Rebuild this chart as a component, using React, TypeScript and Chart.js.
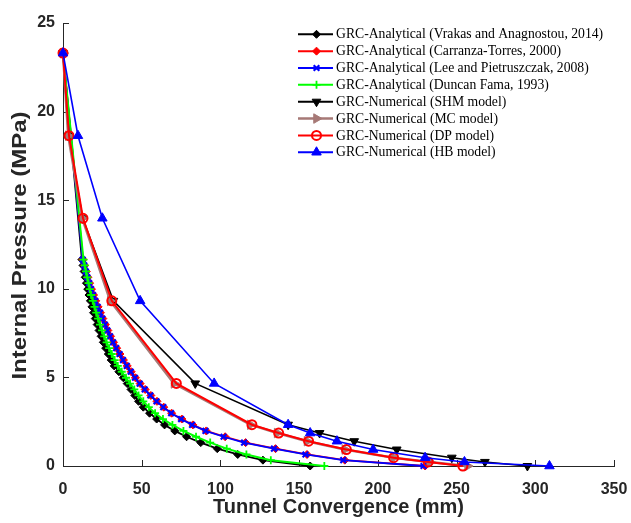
import React, { useEffect, useRef } from 'react';
import { Chart, registerables } from 'chart.js';
import { drawPoint } from 'chart.js/helpers';

Chart.register(...registerables);

const seriesLabels = [
  'GRC-Analytical (Vrakas and Anagnostou, 2014)',
  'GRC-Analytical (Carranza-Torres, 2000)',
  'GRC-Analytical (Lee and Pietruszczak, 2008)',
  'GRC-Analytical (Duncan Fama, 1993)',
  'GRC-Numerical (SHM model)',
  'GRC-Numerical (MC model)',
  'GRC-Numerical (DP model)',
  'GRC-Numerical (HB model)',
];

const xTitle = 'Tunnel Convergence (mm)';
const yTitle = 'Internal Pressure (MPa)';
const xTickValues = [0, 50, 100, 150, 200, 250, 300, 350];
const yTickValues = [0, 5, 10, 15, 20, 25];

// Internal pressure (MPa) for analytical curves
const analyticalP = [23.3, 11.65, 11.32, 10.98, 10.65, 10.32, 9.98, 9.65, 9.32, 8.98, 8.65, 8.32, 7.98, 7.65, 7.32, 6.98, 6.65, 6.32, 5.98, 5.65, 5.32, 4.98, 4.65, 4.32, 3.98, 3.65, 3.32, 2.98, 2.65, 2.32, 1.98, 1.65, 1.32, 0.98, 0.65, 0.33, 0];
// Tunnel convergence (mm)
const vrakasU = [0, 12.0, 12.7, 13.4, 14.1, 14.9, 15.7, 16.5, 17.4, 18.4, 19.4, 20.5, 21.7, 22.9, 24.2, 25.6, 27.1, 28.8, 30.6, 32.5, 35.5, 38.3, 40.8, 43.2, 45.6, 48.0, 51, 55, 59.5, 64.5, 71, 78.5, 87.5, 98, 111, 127, 157];
const carranzaU = [0, 12.7, 13.7, 14.8, 15.8, 16.9, 18.1, 19.4, 20.8, 22.3, 23.8, 25.3, 26.9, 28.5, 30.2, 32.1, 34.1, 36.2, 38.4, 40.8, 43.3, 46.0, 49.0, 52.2, 55.8, 59.7, 64.0, 69.0, 75.5, 82.5, 91, 103, 116, 135, 155, 179, 230];
const leeU = [0, 12.5, 13.5, 14.5, 15.5, 16.6, 17.8, 19.1, 20.5, 22.0, 23.5, 25.0, 26.6, 28.2, 29.9, 31.8, 33.8, 35.9, 38.1, 40.5, 43.0, 45.7, 48.7, 51.9, 55.5, 59.4, 63.7, 68.7, 75.0, 82.0, 90.5, 102, 115, 134, 154, 178, 229];
const duncanU = [0, 13.0, 13.8, 14.6, 15.4, 16.2, 17.0, 17.9, 18.9, 20.0, 21.1, 22.3, 23.5, 24.8, 26.2, 27.7, 29.3, 31.0, 32.8, 34.8, 37.3, 40.0, 42.6, 45.3, 48.0, 51.0, 54.5, 58.5, 63.5, 69.5, 76.5, 84.5, 93.5, 104, 116.5, 132, 166];

// Numerical results
const numericalP = [23.3, 18.64, 13.98, 9.32, 4.66, 2.33, 1.86, 1.4, 0.93, 0.47, 0.23, 0];
const shmU = [0, 3.5, 12.5, 32, 84, 143, 163, 185, 212, 247, 268, 295];
const mcU = [0, 3.3, 12.2, 30, 70.5, 119, 136, 155, 179, 210, 233, 257];
const dpU = [0, 3.8, 12.7, 31, 72, 120, 137, 156, 180, 210, 232, 254];
const hbU = [0, 9.5, 25, 49, 96, 143, 157, 174, 197, 230, 255, 309];

const seriesX = [vrakasU, carranzaU, leeU, duncanU, shmU, mcU, dpU, hbU];
const seriesY = [analyticalP, analyticalP, analyticalP, analyticalP, numericalP, numericalP, numericalP, numericalP];

const styles = [
  { color: '#000000', fill: '#000000', pointStyle: 'rectRot', radius: 4, rotation: 0, lineWidth: 1.8, pointBorder: 1 },
  { color: '#ff0000', fill: '#ff0000', pointStyle: 'rectRot', radius: 4, rotation: 0, lineWidth: 1.8, pointBorder: 1 },
  { color: '#0000ff', fill: '#0000ff', pointStyle: 'crossRot', radius: 4, rotation: 0, lineWidth: 1.8, pointBorder: 2.2 },
  { color: '#00ff00', fill: '#00ff00', pointStyle: 'cross', radius: 4, rotation: 0, lineWidth: 2, pointBorder: 1.8 },
  { color: '#000000', fill: '#000000', pointStyle: 'triangle', radius: 5, rotation: 180, lineWidth: 1.6, pointBorder: 1 },
  { color: '#a67976', fill: '#a67976', pointStyle: 'triangle', radius: 5.5, rotation: 90, lineWidth: 2.5, pointBorder: 1 },
  { color: '#ff0000', fill: 'rgba(255,255,255,0)', pointStyle: 'circle', radius: 4.5, rotation: 0, lineWidth: 2, pointBorder: 2 },
  { color: '#0000ff', fill: '#0000ff', pointStyle: 'triangle', radius: 5.5, rotation: 0, lineWidth: 1.6, pointBorder: 1 },
];

const AXIS_COLOR = '#262626';
const SANS = "'Liberation Sans', Arial, sans-serif";

const innerTicks = {
  id: 'innerTicks',
  beforeDatasetsDraw(chart: any) {
    const { ctx, chartArea } = chart;
    const x = chart.scales.x;
    const y = chart.scales.y;
    ctx.save();
    ctx.strokeStyle = AXIS_COLOR;
    ctx.lineWidth = 1;
    x.ticks.forEach((t: any) => {
      const px = Math.round(x.getPixelForValue(t.value)) + 0.5;
      ctx.beginPath();
      ctx.moveTo(px, chartArea.bottom);
      ctx.lineTo(px, chartArea.bottom - 6);
      ctx.stroke();
    });
    y.ticks.forEach((t: any) => {
      const py = Math.round(y.getPixelForValue(t.value)) + 0.5;
      ctx.beginPath();
      ctx.moveTo(chartArea.left, py);
      ctx.lineTo(chartArea.left + 6, py);
      ctx.stroke();
    });
    // y axis title, stretched along its length like the reference
    ctx.save();
    ctx.translate(20.5, (chartArea.top + chartArea.bottom) / 2 + 1);
    ctx.rotate(-Math.PI / 2);
    ctx.scale(1.2, 1);
    ctx.font = `bold 20px ${SANS}`;
    ctx.fillStyle = AXIS_COLOR;
    ctx.textAlign = 'center';
    ctx.textBaseline = 'middle';
    ctx.fillText(yTitle, 0, 0);
    ctx.restore();
    ctx.restore();
  },
};

const customLegend = {
  id: 'customLegend',
  afterDraw(chart: any) {
    const { ctx } = chart;
    ctx.save();
    ctx.font = "13.7px 'Liberation Serif', 'Times New Roman', serif";
    ctx.textBaseline = 'middle';
    ctx.textAlign = 'left';
    seriesLabels.forEach((label, i) => {
      const s = styles[i];
      const yy = 34.3 + i * 16.85;
      ctx.strokeStyle = s.color;
      ctx.lineWidth = Math.max(s.lineWidth, 2);
      ctx.beginPath();
      ctx.moveTo(298, yy);
      ctx.lineTo(333, yy);
      ctx.stroke();
      ctx.fillStyle = s.fill;
      ctx.strokeStyle = s.color;
      ctx.lineWidth = s.pointBorder;
      drawPoint(ctx, { pointStyle: s.pointStyle as any, rotation: s.rotation, radius: s.radius, borderWidth: s.pointBorder } as any, 316.5, yy);
      ctx.fillStyle = '#000000';
      ctx.fillText(label, 336, yy + 0.5);
    });
    ctx.restore();
  },
};

export default function App() {
  const ref = useRef<HTMLCanvasElement>(null);
  useEffect(() => {
    const datasets = seriesLabels.map((label, i) => {
      const s = styles[i];
      return {
        label,
        data: seriesX[i].map((u, k) => ({ x: u, y: seriesY[i][k] })),
        showLine: true,
        borderColor: s.color,
        backgroundColor: s.fill,
        borderWidth: s.lineWidth,
        pointStyle: s.pointStyle,
        pointRadius: s.radius,
        pointRotation: s.rotation,
        pointBorderWidth: s.pointBorder,
        pointBorderColor: s.color,
        pointBackgroundColor: s.fill,
        tension: 0,
        clip: false,
        order: seriesLabels.length - i,
      };
    });
    const chart = new Chart(ref.current as HTMLCanvasElement, {
      type: 'scatter',
      data: { datasets: datasets as any },
      options: {
        animation: false,
        responsive: false,
        devicePixelRatio: 1,
        layout: { padding: { left: 8, right: 17, top: 23, bottom: 0 } },
        plugins: { legend: { display: false }, tooltip: { enabled: false } },
        scales: {
          x: {
            type: 'linear',
            min: 0,
            max: 350,
            afterBuildTicks: (scale: any) => {
              scale.ticks = xTickValues.map((v) => ({ value: v }));
            },
            afterFit: (scale: any) => {
              scale.height = 57;
            },
            grid: { display: false, drawTicks: true, tickLength: 14 },
            border: { display: true, color: AXIS_COLOR, width: 1 },
            ticks: {
              autoSkip: false,
              maxRotation: 0,
              padding: 0,
              color: AXIS_COLOR,
              font: { family: SANS, size: 16, weight: 'bold' },
            },
            title: {
              display: true,
              text: xTitle,
              color: AXIS_COLOR,
              font: { family: SANS, size: 20, weight: 'bold' },
              padding: { top: 0, bottom: 4 },
            },
          },
          y: {
            type: 'linear',
            min: 0,
            max: 25,
            afterBuildTicks: (scale: any) => {
              scale.ticks = yTickValues.map((v) => ({ value: v }));
            },
            afterFit: (scale: any) => {
              scale.width = 55;
            },
            grid: { display: false, drawTicks: false },
            border: { display: true, color: AXIS_COLOR, width: 1 },
            ticks: {
              autoSkip: false,
              padding: 8,
              color: AXIS_COLOR,
              font: { family: SANS, size: 16, weight: 'bold' },
            },
            title: { display: false },
          },
        },
      },
      plugins: [innerTicks, customLegend],
    });
    return () => chart.destroy();
  }, []);
  return (
    <div style={{ position: 'absolute', left: 0, top: 0, width: 631, height: 523, background: '#ffffff' }}>
      <canvas ref={ref} width={631} height={523} style={{ display: 'block' }} />
    </div>
  );
}
